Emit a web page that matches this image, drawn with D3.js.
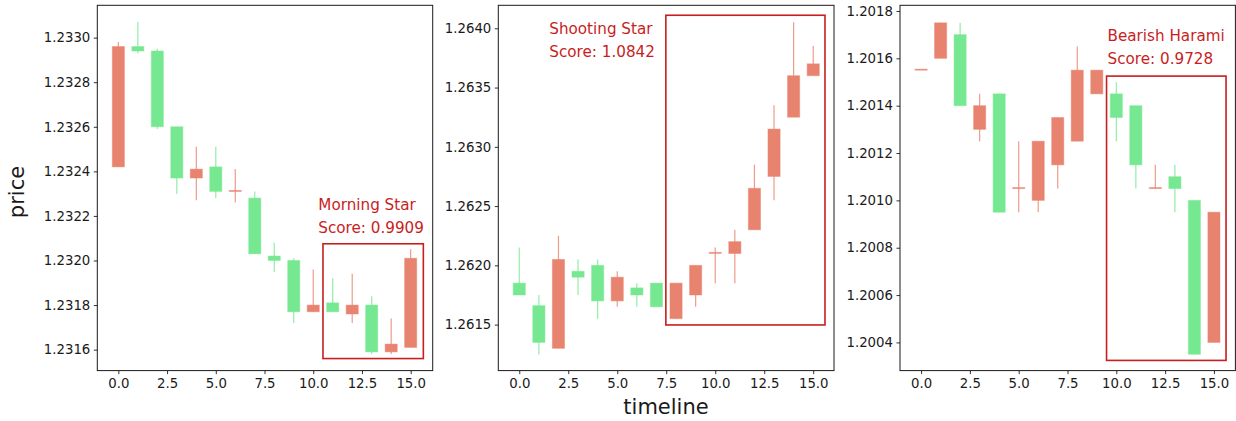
<!DOCTYPE html>
<html><head><meta charset="utf-8">
<script src="https://cdn.jsdelivr.net/npm/d3@7/dist/d3.min.js"></script>
<style>
html,body{margin:0;padding:0;background:#fff;}
svg{display:block;font-family:"DejaVu Sans",sans-serif;}
</style></head>
<body><svg id="chart" width="1236" height="421"></svg>
<script>
// ---- data ----
const timeline = [0,1,2,3,4,5,6,7,8,9,10,11,12,13,14,15];
const xTicks = [0, 2.5, 5, 7.5, 10, 12.5, 15];

// Panel 1: Morning Star
const p1Open  = [1.23242,1.23296,1.23294,1.23260,1.23237,1.23242,1.23231,1.23228,1.23202,1.23200,1.23177,1.23181,1.23176,1.23180,1.23159,1.23161];
const p1Close = [1.23296,1.23294,1.23260,1.23237,1.23241,1.23231,1.232312,1.23203,1.23200,1.23177,1.23180,1.23177,1.23180,1.23159,1.231625,1.23201];
const p1High  = [1.23298,1.23307,1.23295,1.23260,1.23251,1.23251,1.23241,1.23231,1.23208,1.23201,1.23196,1.23192,1.23194,1.23184,1.23174,1.23205];
const p1Low   = [1.23242,1.23293,1.23259,1.23230,1.23227,1.23228,1.23226,1.23203,1.23195,1.23172,1.23177,1.23177,1.23172,1.23158,1.23158,1.23161];
const p1YTicks = [1.2316,1.2318,1.2320,1.2322,1.2324,1.2326,1.2328,1.2330];
const p1YLim = [1.231506, 1.233145];
const p1XLim = [-1.08, 16.13];
const p1Box = [10.5, 15.65, 1.23156, 1.232075];   // x0, x1, yLow, yHigh
const p1Label = ["Morning Star", "Score: 0.9909"];
const p1LabelAt = [10.26, 1.232227];

// Panel 2: Shooting Star
const p2Open  = [1.26185,1.26166,1.26130,1.26195,1.26200,1.26170,1.26181,1.26185,1.26155,1.26175,1.26210,1.26210,1.26230,1.26275,1.26325,1.26360];
const p2Close = [1.26175,1.26135,1.26205,1.26190,1.26170,1.26190,1.26175,1.26165,1.26185,1.26200,1.262105,1.26220,1.26265,1.26315,1.26360,1.26370];
const p2High  = [1.26215,1.26175,1.26225,1.26205,1.26205,1.26195,1.26185,1.26185,1.26185,1.26200,1.26215,1.26230,1.26285,1.26335,1.26405,1.26385];
const p2Low   = [1.26175,1.26125,1.26130,1.26175,1.26155,1.26165,1.26165,1.26165,1.26155,1.26165,1.26185,1.26185,1.26230,1.26255,1.26325,1.26360];
const p2YTicks = [1.2615,1.2620,1.2625,1.2630,1.2635,1.2640];
const p2YLim = [1.261112, 1.264194];
const p2XLim = [-1.07, 16.06];
const p2Box = [7.48, 15.6, 1.261497, 1.26411];
const p2Label = ["Shooting Star", "Score: 1.0842"];
const p2LabelAt = [1.53, 1.26395];

// Panel 3: Bearish Harami
const p3Open  = [1.20155,1.20160,1.20170,1.20130,1.20145,1.20105,1.20100,1.20115,1.20125,1.20145,1.20145,1.20140,1.20105,1.20110,1.20100,1.20040];
const p3Close = [1.201552,1.20175,1.20140,1.20140,1.20095,1.201052,1.20125,1.20135,1.20155,1.20155,1.20135,1.20115,1.201052,1.20105,1.20035,1.20095];
const p3High  = [1.20155,1.20175,1.20175,1.20145,1.20145,1.20125,1.20125,1.20135,1.20165,1.20155,1.20150,1.20140,1.20115,1.20115,1.20100,1.20095];
const p3Low   = [1.20155,1.20160,1.20140,1.20125,1.20095,1.20095,1.20095,1.20105,1.20125,1.20145,1.20125,1.20105,1.20105,1.20095,1.20035,1.20040];
const p3YTicks = [1.2004,1.2006,1.2008,1.2010,1.2012,1.2014,1.2016,1.2018];
const p3YLim = [1.200281, 1.201824];
const p3XLim = [-1.08, 16.1];
const p3Box = [9.5, 15.62, 1.200324, 1.201525];
const p3Label = ["Bearish Harami", "Score: 0.9728"];
const p3LabelAt = [9.55, 1.201673];

// ---- styling / layout ----
const UP = "#e8836f", DOWN = "#76e891", ACCENT = "#c81e1e", INK = "#1a1a1a";
const panels = [
  {left:97.3, right:432.7, open:p1Open, close:p1Close, high:p1High, low:p1Low, yTicks:p1YTicks, yLim:p1YLim, xLim:p1XLim, box:p1Box, label:p1Label, labelAt:p1LabelAt},
  {left:498.3, right:834, open:p2Open, close:p2Close, high:p2High, low:p2Low, yTicks:p2YTicks, yLim:p2YLim, xLim:p2XLim, box:p2Box, label:p2Label, labelAt:p2LabelAt},
  {left:900, right:1235.4, open:p3Open, close:p3Close, high:p3High, low:p3Low, yTicks:p3YTicks, yLim:p3YLim, xLim:p3XLim, box:p3Box, label:p3Label, labelAt:p3LabelAt}
];
const plotTop = 5.3, plotBottom = 370.6;
const bodyW = 0.62;
const svg = d3.select("#chart");

panels.forEach(p => {
  const x = d3.scaleLinear().domain(p.xLim).range([p.left, p.right]);
  const y = d3.scaleLinear().domain(p.yLim).range([plotBottom, plotTop]);
  const g = svg.append("g");
  const rows = timeline.map((t,i) => ({t, o:p.open[i], c:p.close[i], h:p.high[i], l:p.low[i]}));

  // wicks
  g.selectAll("line.wick").data(rows).enter().append("line")
    .attr("x1", d => x(d.t)).attr("x2", d => x(d.t))
    .attr("y1", d => y(d.h)).attr("y2", d => y(d.l))
    .attr("stroke", d => d.c >= d.o ? UP : DOWN)
    .attr("stroke-opacity", 0.8)
    .attr("stroke-width", 1.2);

  // bodies
  g.selectAll("rect.body").data(rows).enter().append("rect")
    .attr("x", d => x(d.t - bodyW/2))
    .attr("width", d => x(d.t + bodyW/2) - x(d.t - bodyW/2))
    .attr("y", d => Math.min(y(d.o), y(d.c)) - (Math.abs(y(d.o)-y(d.c)) < 1 ? 0.5 : 0))
    .attr("height", d => Math.max(1, Math.abs(y(d.o) - y(d.c))))
    .attr("fill", d => d.c >= d.o ? UP : DOWN)
    .attr("stroke", d => d.c >= d.o ? UP : DOWN)
    .attr("stroke-opacity", 0.45)
    .attr("stroke-width", 1);

  // pattern box
  g.append("rect")
    .attr("x", x(p.box[0])).attr("width", x(p.box[1]) - x(p.box[0]))
    .attr("y", y(p.box[3])).attr("height", y(p.box[2]) - y(p.box[3]))
    .attr("fill", "none").attr("stroke", ACCENT).attr("stroke-width", 1.6);

  // label
  const lt = g.append("text")
    .attr("x", x(p.labelAt[0])).attr("y", y(p.labelAt[1]))
    .attr("fill", ACCENT).attr("font-size", "15.2px");
  p.label.forEach((s,i) => lt.append("tspan").attr("x", x(p.labelAt[0])).attr("dy", i ? 22.7 : 0).text(s));

  // axes
  const xa = d3.axisBottom(x).tickValues(xTicks).tickFormat(d3.format(".1f")).tickSizeOuter(0).tickSize(3.5).tickPadding(4);
  const ya = d3.axisLeft(y).tickValues(p.yTicks).tickFormat(d3.format(".4f")).tickSizeOuter(0).tickSize(3.5).tickPadding(3.5);
  const gx = svg.append("g").attr("transform", `translate(0,${plotBottom})`).call(xa);
  const gy = svg.append("g").attr("transform", `translate(${p.left},0)`).call(ya);
  [gx, gy].forEach(a => {
    a.select(".domain").remove();
    a.selectAll(".tick line").attr("stroke", INK).attr("stroke-width", 0.9);
    a.selectAll(".tick text").attr("fill", INK).attr("font-size", "13.3px").attr("font-family", "DejaVu Sans");
  });

  // frame
  svg.append("rect").attr("x", p.left).attr("y", plotTop)
    .attr("width", p.right - p.left).attr("height", plotBottom - plotTop)
    .attr("fill", "none").attr("stroke", INK).attr("stroke-width", 1);
});

// axis titles
svg.append("text").attr("transform", "translate(24,192) rotate(-90)")
  .attr("text-anchor", "middle").attr("font-size", "21px").attr("fill", INK).text("price");
svg.append("text").attr("x", 666).attr("y", 414)
  .attr("text-anchor", "middle").attr("font-size", "21px").attr("fill", INK).text("timeline");
</script></body></html>
